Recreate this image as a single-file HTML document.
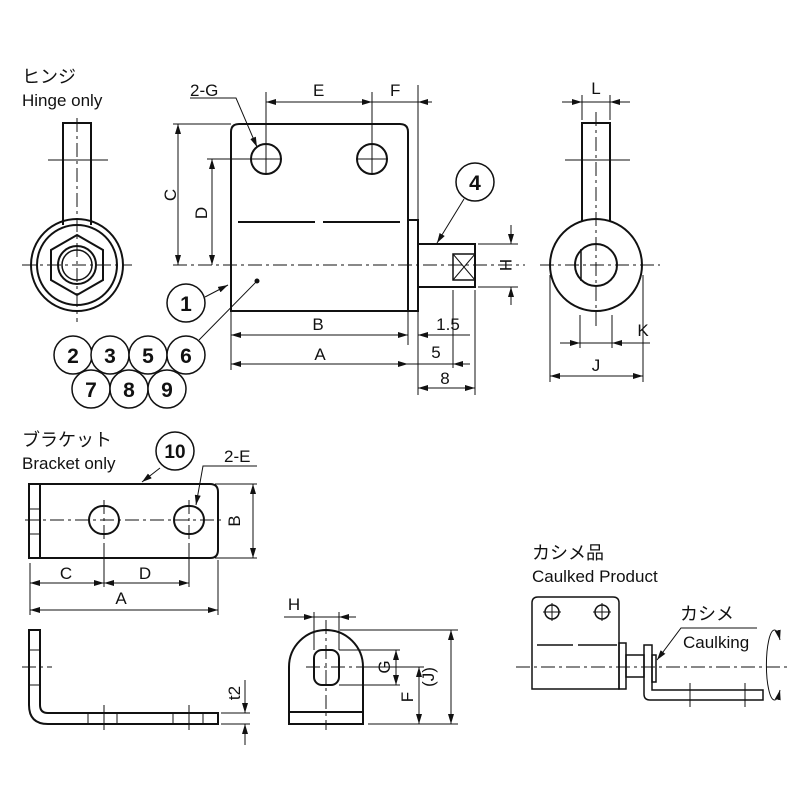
<!DOCTYPE html>
<html><head><meta charset="utf-8"><style>body{margin:0;background:#fff}svg{display:block}text{font-family:"Liberation Sans","Noto Sans CJK JP",sans-serif;fill:#111}</style></head><body>
<svg width="800" height="800" viewBox="0 0 800 800" xmlns="http://www.w3.org/2000/svg">
<defs><marker id="a" viewBox="0 0 10 6" refX="10" refY="3" markerWidth="10" markerHeight="6" orient="auto-start-reverse" markerUnits="userSpaceOnUse"><path d="M0,0L10,3L0,6z" fill="#111"/></marker></defs>
<g fill="none" stroke="#111">
<g stroke-width="1" stroke-dasharray="14,4,3,4">
<line x1="173" y1="265" x2="525" y2="265"/><line x1="22" y1="265" x2="132" y2="265"/><line x1="77" y1="118" x2="77" y2="322"/>
<line x1="540" y1="265" x2="660" y2="265"/><line x1="596" y1="112" x2="596" y2="330"/>
<line x1="25" y1="520" x2="225" y2="520"/><line x1="104" y1="500" x2="104" y2="545"/><line x1="189" y1="500" x2="189" y2="545"/>
<line x1="326" y1="620" x2="326" y2="730"/><line x1="306" y1="667" x2="370" y2="667"/>
<line x1="516" y1="667" x2="790" y2="667"/><line x1="22" y1="667" x2="52" y2="667"/>
</g>
<g stroke-width="1">
<line x1="48" y1="160" x2="108" y2="160"/><line x1="565" y1="160" x2="630" y2="160"/>
<line x1="250" y1="159" x2="282" y2="159"/><line x1="266" y1="140" x2="266" y2="175"/>
<line x1="356" y1="159" x2="388" y2="159"/><line x1="372" y1="140" x2="372" y2="175"/>
</g>
<g stroke-width="2">
<path d="M231,311V132Q231,124 239,124H400Q408,124 408,132V311Z"/>
<rect x="408" y="220" width="10" height="91"/>
<line x1="238" y1="222" x2="315" y2="222"/><line x1="323" y1="222" x2="400" y2="222"/>
<circle cx="266" cy="159" r="15"/><circle cx="372" cy="159" r="15"/>
<rect x="418" y="244" width="57" height="43"/>
</g>
<rect x="453" y="254" width="22" height="26" stroke-width="1.5"/><path d="M453,254L475,280M475,254L453,280" stroke-width="1"/>
<g stroke-width="2">
<path d="M63,225V123H91V225"/><circle cx="77" cy="265" r="46"/><circle cx="77" cy="265" r="40"/>
<polygon points="77,235 103,250 103,280 77,295 51,280 51,250"/>
<circle cx="77" cy="265" r="19"/></g>
<circle cx="77" cy="265" r="15" stroke-width="1.5"/>
<g stroke-width="2"><path d="M582,222V123H610V222"/><circle cx="596" cy="265" r="46"/><circle cx="596" cy="265" r="21"/></g>
<line x1="581" y1="249" x2="581" y2="281" stroke-width="1.5"/>
<g stroke-width="1">
<line x1="266" y1="92" x2="266" y2="145"/><line x1="372" y1="92" x2="372" y2="145"/><line x1="418" y1="85" x2="418" y2="240"/>
<line x1="266" y1="102" x2="372" y2="102" marker-start="url(#a)" marker-end="url(#a)"/>
<line x1="372" y1="102" x2="418" y2="102"/><line x1="432" y1="102" x2="418" y2="102" marker-end="url(#a)"/>
<path d="M190,98H236L257,147" marker-end="url(#a)"/>
<line x1="173" y1="124" x2="231" y2="124"/><line x1="207" y1="159" x2="250" y2="159"/>
<line x1="178" y1="124" x2="178" y2="265" marker-start="url(#a)" marker-end="url(#a)"/>
<line x1="212" y1="159" x2="212" y2="265" marker-start="url(#a)" marker-end="url(#a)"/>
<line x1="231" y1="311" x2="231" y2="370"/><line x1="408" y1="311" x2="408" y2="345"/><line x1="418" y1="311" x2="418" y2="395"/>
<line x1="453" y1="290" x2="453" y2="368"/><line x1="475" y1="290" x2="475" y2="395"/>
<line x1="231" y1="335" x2="408" y2="335" marker-start="url(#a)" marker-end="url(#a)"/>
<line x1="231" y1="364" x2="408" y2="364" marker-start="url(#a)" marker-end="url(#a)"/>
<line x1="470" y1="335" x2="418" y2="335" marker-end="url(#a)"/><line x1="398" y1="335" x2="408" y2="335"/>
<line x1="408" y1="364" x2="470" y2="364"/><line x1="470" y1="364" x2="453" y2="364" marker-end="url(#a)"/>
<line x1="418" y1="388" x2="475" y2="388" marker-start="url(#a)" marker-end="url(#a)"/>
<line x1="478" y1="244" x2="518" y2="244"/><line x1="478" y1="287" x2="518" y2="287"/>
<line x1="511" y1="225" x2="511" y2="244" marker-end="url(#a)"/><line x1="511" y1="305" x2="511" y2="287" marker-end="url(#a)"/>
<line x1="437" y1="243" x2="464" y2="199" marker-start="url(#a)"/>
<line x1="205" y1="297" x2="228" y2="285" marker-end="url(#a)"/>
<line x1="257" y1="281" x2="199" y2="340"/>
<line x1="582" y1="95" x2="582" y2="120"/><line x1="610" y1="95" x2="610" y2="120"/>
<line x1="562" y1="102" x2="582" y2="102" marker-end="url(#a)"/><line x1="630" y1="102" x2="610" y2="102" marker-end="url(#a)"/><line x1="582" y1="102" x2="610" y2="102"/>
<line x1="580" y1="315" x2="580" y2="348"/><line x1="612" y1="315" x2="612" y2="348"/>
<line x1="560" y1="343" x2="580" y2="343" marker-end="url(#a)"/><line x1="650" y1="343" x2="612" y2="343" marker-end="url(#a)"/><line x1="580" y1="343" x2="612" y2="343"/>
<line x1="550" y1="275" x2="550" y2="382"/><line x1="643" y1="275" x2="643" y2="382"/>
<line x1="550" y1="376" x2="643" y2="376" marker-start="url(#a)" marker-end="url(#a)"/>
</g>
<g stroke-width="1.5" fill="#fff">
<circle cx="475" cy="182" r="19"/><circle cx="186" cy="303" r="19"/>
<circle cx="73" cy="355" r="19"/><circle cx="110" cy="355" r="19"/><circle cx="148" cy="355" r="19"/><circle cx="186" cy="355" r="19"/>
<circle cx="91" cy="389" r="19"/><circle cx="129" cy="389" r="19"/><circle cx="167" cy="389" r="19"/>
<circle cx="175" cy="451" r="19"/>
</g>
<circle cx="257" cy="281" r="2" fill="#111"/>
<g stroke-width="2">
<path d="M29,484H210Q218,484 218,492V550Q218,558 210,558H29Z"/><line x1="40" y1="484" x2="40" y2="558"/>
<rect x="89" y="506" width="30" height="28" rx="14"/><rect x="174" y="506" width="30" height="28" rx="14"/>
<path d="M29,630H40V705Q40,713 48,713H218V724H48Q29,724 29,705Z"/>
<path d="M289,724V667A37,37 0 0 1 363,667V724Z"/><line x1="289" y1="712" x2="363" y2="712"/>
<rect x="314" y="650" width="25" height="35" rx="8"/>
</g>
<g stroke-width="1">
<line x1="29" y1="509" x2="40" y2="509"/><line x1="29" y1="534" x2="40" y2="534"/>
<line x1="29" y1="650" x2="40" y2="650"/><line x1="29" y1="685" x2="40" y2="685"/>
<line x1="88" y1="713" x2="88" y2="724"/><line x1="117" y1="713" x2="117" y2="724"/><line x1="173" y1="713" x2="173" y2="724"/><line x1="203" y1="713" x2="203" y2="724"/>
<line x1="104" y1="705" x2="104" y2="730"/><line x1="189" y1="705" x2="189" y2="730"/>
<line x1="142" y1="482" x2="160" y2="468" marker-start="url(#a)"/>
<path d="M257,466H203L196,505" marker-end="url(#a)"/>
<line x1="215" y1="484" x2="257" y2="484"/><line x1="215" y1="558" x2="257" y2="558"/>
<line x1="253" y1="484" x2="253" y2="558" marker-start="url(#a)" marker-end="url(#a)"/>
<line x1="30" y1="563" x2="30" y2="615"/><line x1="104" y1="545" x2="104" y2="587"/><line x1="189" y1="545" x2="189" y2="587"/><line x1="218" y1="560" x2="218" y2="615"/>
<line x1="30" y1="583" x2="104" y2="583" marker-start="url(#a)" marker-end="url(#a)"/>
<line x1="104" y1="583" x2="189" y2="583" marker-start="url(#a)" marker-end="url(#a)"/>
<line x1="30" y1="610" x2="218" y2="610" marker-start="url(#a)" marker-end="url(#a)"/>
<line x1="221" y1="713" x2="250" y2="713"/><line x1="221" y1="724" x2="250" y2="724"/>
<line x1="245" y1="680" x2="245" y2="713" marker-end="url(#a)"/><line x1="245" y1="745" x2="245" y2="724" marker-end="url(#a)"/>
<line x1="314" y1="612" x2="314" y2="650"/><line x1="339" y1="612" x2="339" y2="650"/>
<line x1="284" y1="617" x2="314" y2="617" marker-end="url(#a)"/><line x1="356" y1="617" x2="339" y2="617" marker-end="url(#a)"/><line x1="314" y1="617" x2="339" y2="617"/>
<line x1="339" y1="650" x2="400" y2="650"/><line x1="339" y1="685" x2="400" y2="685"/>
<line x1="396" y1="650" x2="396" y2="685" marker-start="url(#a)" marker-end="url(#a)"/>
<line x1="370" y1="667" x2="424" y2="667"/>
<line x1="419" y1="667" x2="419" y2="724" marker-start="url(#a)" marker-end="url(#a)"/>
<line x1="340" y1="630" x2="458" y2="630"/><line x1="368" y1="724" x2="458" y2="724"/>
<line x1="451" y1="630" x2="451" y2="724" marker-start="url(#a)" marker-end="url(#a)"/>
</g>
<g stroke-width="1.5">
<path d="M532,689V603Q532,597 538,597H613Q619,597 619,603V689Z"/>
<rect x="619" y="643" width="7" height="46"/><rect x="626" y="655" width="18" height="22"/>
<path d="M644,645H652V690H763V700H650Q644,700 644,694Z"/>
<rect x="652" y="655" width="4" height="27"/>
<line x1="537" y1="645" x2="573" y2="645"/><line x1="578" y1="645" x2="617" y2="645"/>
<circle cx="552" cy="612" r="7"/><circle cx="602" cy="612" r="7"/>
</g>
<g stroke-width="1">
<path d="M543,612H561M552,603V621M593,612H611M602,603V621M690,683V707M745,683V707"/>
<path d="M757,628H681L657,660" marker-end="url(#a)"/>
<path d="M780,640A8,35 0 1 0 780,690" marker-start="url(#a)" marker-end="url(#a)"/>
</g>
</g>
<g font-size="17">
<text x="22" y="83" font-size="18">ヒンジ</text><text x="22" y="106">Hinge only</text>
<text x="22" y="446" font-size="18">ブラケット</text><text x="22" y="469">Bracket only</text>
<text x="532" y="559" font-size="18">カシメ品</text><text x="532" y="582">Caulked Product</text>
<text x="680" y="620" font-size="18">カシメ</text><text x="683" y="648">Caulking</text>
<text x="190" y="96">2-G</text><text x="313" y="96">E</text><text x="390" y="96">F</text>
<text x="318" y="330" text-anchor="middle">B</text><text x="320" y="360" text-anchor="middle">A</text>
<text x="448" y="330" text-anchor="middle">1.5</text><text x="436" y="358" text-anchor="middle">5</text><text x="445" y="384" text-anchor="middle">8</text>
<text x="596" y="94" text-anchor="middle">L</text><text x="643" y="336" text-anchor="middle">K</text><text x="596" y="371" text-anchor="middle">J</text>
<text transform="translate(176,195) rotate(-90)" text-anchor="middle">C</text>
<text transform="translate(207,213) rotate(-90)" text-anchor="middle">D</text>
<text transform="translate(500,265) rotate(90)" text-anchor="middle">H</text>
<text x="224" y="462">2-E</text>
<text transform="translate(240,521) rotate(-90)" text-anchor="middle">B</text>
<text x="66" y="579" text-anchor="middle">C</text><text x="145" y="579" text-anchor="middle">D</text><text x="121" y="604" text-anchor="middle">A</text>
<text transform="translate(240,693) rotate(-90)" text-anchor="middle">t2</text>
<text x="294" y="610" text-anchor="middle">H</text>
<text transform="translate(390,667) rotate(-90)" text-anchor="middle">G</text>
<text transform="translate(413,697) rotate(-90)" text-anchor="middle">F</text>
<text transform="translate(434,677) rotate(-90)" text-anchor="middle">(J)</text>
</g>
<g font-size="21" font-weight="bold" text-anchor="middle">
<text x="475" y="190">4</text><text x="186" y="311">1</text>
<text x="73" y="363">2</text><text x="110" y="363">3</text><text x="148" y="363">5</text><text x="186" y="363">6</text>
<text x="91" y="397">7</text><text x="129" y="397">8</text><text x="167" y="397">9</text>
<text x="175" y="458" font-size="19">10</text>
</g>
</svg>
</body></html>
